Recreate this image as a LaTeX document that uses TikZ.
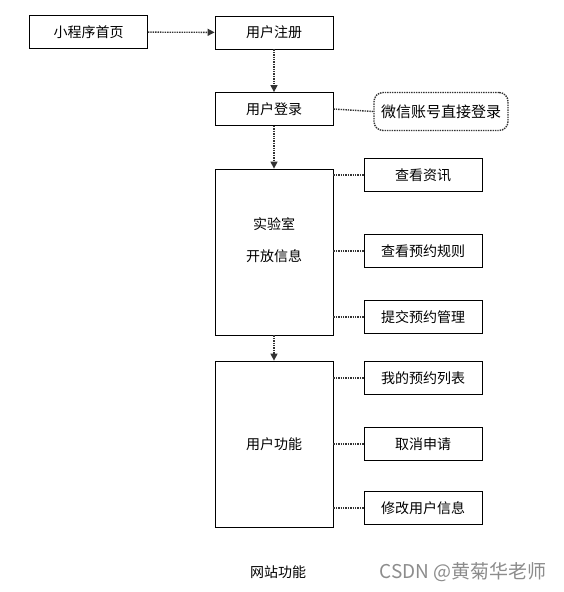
\documentclass[tikz,border=0pt]{standalone}
\usepackage{fontspec}
\newfontfamily\cjk{Noto Sans CJK SC}
\usetikzlibrary{arrows.meta}
\begin{document}
\begin{tikzpicture}[x=1pt,y=-1pt,
  font=\cjk\fontsize{14}{16}\selectfont,
  box/.style={draw=black, line width=0.8pt, minimum width=118pt, minimum height=33pt, inner sep=0pt},
  bigbox/.style={draw=black, line width=0.8pt, minimum width=118pt, minimum height=166pt, inner sep=0pt},
  link/.style={draw=black!80, densely dotted, line width=1.4pt},
  arr/.style={link, -{Triangle[length=7pt,width=7pt]}}
]
\useasboundingbox (0,0) rectangle (564,592);
\node[box] (home) at (88.5,32) {小程序首页};
\node[box] (reg) at (274,32.5) {用户注册};
\node[box] (login) at (274,109) {用户登录};
\node[draw=black!80, densely dotted, line width=1.4pt, rounded corners=9pt, minimum width=134pt, minimum height=38pt, inner sep=0pt, font=\cjk\fontsize{15}{17}\selectfont] (wx) at (441,111.5) {微信账号直接登录};
\node[bigbox] (lab) at (274,252) {};
\node at (274,224) {实验室};
\node at (274,256) {开放信息};
\node[box] (zx) at (423,175) {查看资讯};
\node[box] (gz) at (423,251) {查看预约规则};
\node[box] (tj) at (423,317) {提交预约管理};
\node[bigbox] (user) at (274,444) {用户功能};
\node[box] (lb) at (423,378) {我的预约列表};
\node[box] (qx) at (423,444) {取消申请};
\node[box] (xg) at (423,508) {修改用户信息};
\draw[arr] (home) -- (reg);
\draw[arr] (reg) -- (login);
\draw[arr] (login) -- (lab);
\draw[arr] (lab) -- (user);
\draw[link] (login.east) -- (wx.west);
\draw[link] (lab.east |- zx) -- (zx.west);
\draw[link] (lab.east |- gz) -- (gz.west);
\draw[link] (lab.east |- tj) -- (tj.west);
\draw[link] (user.east |- lb) -- (lb.west);
\draw[link] (user.east |- qx) -- (qx.west);
\draw[link] (user.east |- xg) -- (xg.west);
\node (title) at (278,572) {网站功能};
\node[text=black!45, font=\cjk\fontsize{19}{22}\selectfont] (mark) at (463,572) {CSDN @黄菊华老师};
\end{tikzpicture}
\end{document}
